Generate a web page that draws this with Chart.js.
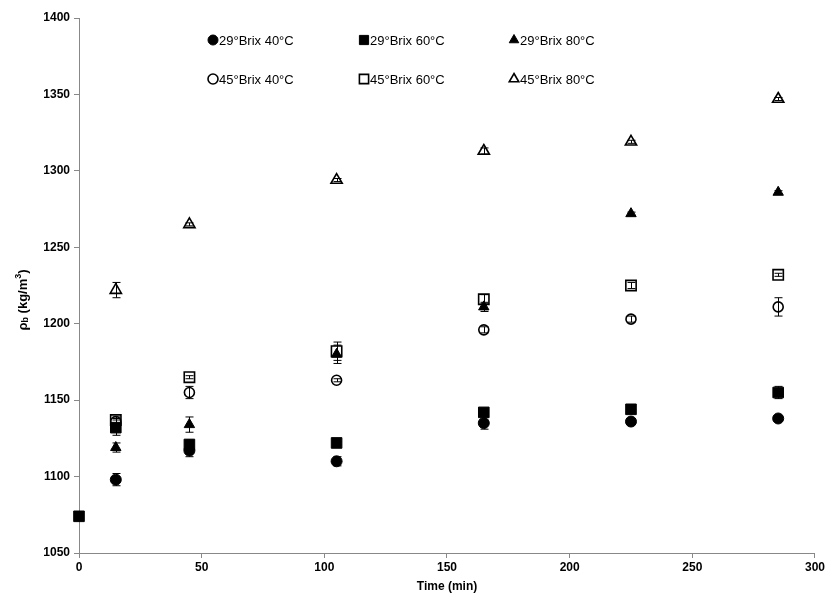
<!DOCTYPE html>
<html>
<head>
<meta charset="utf-8">
<script src="https://cdn.jsdelivr.net/npm/chart.js@4.4.0/dist/chart.umd.min.js"></script>
<style>
  html, body { margin: 0; padding: 0; background: #fff; }
  #wrap { width: 827px; height: 594px; }
</style>
</head>
<body>
<div id="wrap"><canvas id="myChart" width="827" height="594"></canvas></div>
<script>
// czasy pomiaru (min)
const times = [0, 15, 45, 105, 165, 225, 285];

// gestosc (kg/m3) dla kazdej serii, null = brak pomiaru
const brix29_40 = [null, 1098, 1117, 1110, 1135, 1136, 1138];
const brix29_60 = [1074, 1132, 1121, 1122, 1142, 1144, 1155];
const brix29_80 = [null, 1119, 1134, 1180, 1211, 1272, 1286];
const brix45_40 = [null, 1136, 1155, 1163, 1196, 1203, 1211];
const brix45_60 = [null, 1137, 1165, 1182, 1216, 1225, 1232];
const brix45_80 = [null, 1222, 1265, 1294, 1313, 1319, 1347];

// odchylenia (slupki bledow)
const err29_40 = [0, 4, 4, 3, 4, 2, 1];
const err29_60 = [0, 5, 3, 1, 2, 1, 4];
const err29_80 = [0, 3, 5, 6, 3, 1, 1];
const err45_40 = [0, 2, 4, 1, 2, 2, 6];
const err45_60 = [0, 2, 1, 6, 3, 2, 1];
const err45_80 = [0, 5, 1, 1, 2, 1, 1];

const yTicks = [1050, 1100, 1150, 1200, 1250, 1300, 1350, 1400];

function punkty(vals) {
  return times.map((t, i) => ({ x: t, y: vals[i] })).filter(p => p.y !== null);
}

function seria(label, vals, errs, style, radius, filled) {
  return {
    label: label,
    data: punkty(vals),
    errs: errs,
    pointStyle: style,
    pointRadius: radius,
    pointHoverRadius: radius,
    pointBackgroundColor: filled ? '#000' : '#fff',
    pointBorderColor: '#000',
    pointBorderWidth: filled ? 1 : 1.6,
    showLine: false,
    clip: false
  };
}

const datasets = [
  seria('29°Brix 40°C', brix29_40, err29_40, 'circle', 5.5, true),
  seria('29°Brix 60°C', brix29_60, err29_60, 'rect', 7.5, true),
  seria('29°Brix 80°C', brix29_80, err29_80, 'triangle', 6, true),
  seria('45°Brix 40°C', brix45_40, err45_40, 'circle', 5, false),
  seria('45°Brix 60°C', brix45_60, err45_60, 'rect', 7.3, false),
  seria('45°Brix 80°C', brix45_80, err45_80, 'triangle', 6.5, false)
];

// slupki bledow rysowane na wierzchu punktow
const errorBars = {
  id: 'errorBars',
  afterDatasetsDraw(chart) {
    const ctx = chart.ctx;
    const xs = chart.scales.x, ys = chart.scales.y;
    ctx.save();
    ctx.strokeStyle = '#000';
    ctx.lineWidth = 1;
    chart.data.datasets.forEach(ds => {
      ds.data.forEach(p => {
        const e = ds.errs[times.indexOf(p.x)];
        if (!e) return;
        const px = Math.round(xs.getPixelForValue(p.x)) + 0.5;
        const top = ys.getPixelForValue(p.y + e);
        const bot = ys.getPixelForValue(p.y - e);
        ctx.beginPath();
        ctx.moveTo(px, top); ctx.lineTo(px, bot);
        ctx.moveTo(px - 4, top); ctx.lineTo(px + 4, top);
        ctx.moveTo(px - 4, bot); ctx.lineTo(px + 4, bot);
        ctx.stroke();
      });
    });
    ctx.restore();
  }
};

// legenda w ukladzie 3 x 2 oraz tytul osi Y z indeksami
const extras = {
  id: 'extras',
  afterDraw(chart) {
    const ctx = chart.ctx;
    ctx.save();
    const cols = [213, 364, 514];
    const rows = [40, 79];
    chart.data.datasets.forEach((ds, i) => {
      const cx = cols[i % 3], cy = rows[Math.floor(i / 3)];
      ctx.fillStyle = ds.pointBackgroundColor;
      ctx.strokeStyle = '#000';
      ctx.lineWidth = ds.pointBorderWidth;
      const r = ds.pointStyle === 'rect' ? 6.5 : (ds.pointStyle === 'triangle' ? 5.5 : 5);
      Chart.helpers.drawPoint(ctx, { pointStyle: ds.pointStyle, radius: r, borderWidth: ds.pointBorderWidth }, cx, cy);
      ctx.fillStyle = '#000';
      ctx.font = '13px "Liberation Sans", Arial, sans-serif';
      ctx.textBaseline = 'middle';
      ctx.textAlign = 'left';
      ctx.fillText(ds.label, cx + 6, cy + 1);
    });

    // tytul osi Y
    ctx.translate(23, 300);
    ctx.rotate(-Math.PI / 2);
    ctx.textBaseline = 'middle';
    ctx.textAlign = 'left';
    const big = 'bold 13px "Liberation Sans", Arial, sans-serif';
    const small = 'bold 9px "Liberation Sans", Arial, sans-serif';
    const parts = [['ρ', big, 0], ['b', small, 3], [' (kg/m', big, 0], ['3', small, -4], [')', big, 0]];
    let w = 0;
    parts.forEach(p => { ctx.font = p[1]; w += ctx.measureText(p[0]).width; });
    let x = -w / 2;
    parts.forEach(p => {
      ctx.font = p[1];
      ctx.fillText(p[0], x, p[2]);
      x += ctx.measureText(p[0]).width;
    });
    ctx.restore();
  }
};

const tickFont = { family: '"Liberation Sans", Arial, sans-serif', size: 12, weight: 'bold' };

const canvas = document.getElementById('myChart');
const chart = new Chart(canvas, {
  type: 'scatter',
  data: { datasets: datasets },
  options: {
    responsive: false,
    animation: false,
    layout: { padding: { top: 18, right: 11, left: 0, bottom: 0 } },
    plugins: {
      legend: { display: false },
      tooltip: { enabled: false }
    },
    scales: {
      x: {
        type: 'linear',
        min: 0,
        max: 300,
        ticks: { stepSize: 50, color: '#000', font: tickFont, padding: 2, callback: v => String(v) },
        grid: { drawOnChartArea: false, drawTicks: true, tickLength: 5, color: '#888' },
        border: { color: '#888', width: 1 },
        title: {
          display: true,
          text: 'Time (min)',
          color: '#000',
          font: { family: '"Liberation Sans", Arial, sans-serif', size: 12, weight: 'bold' },
          padding: { top: 1, bottom: 0 }
        },
        afterFit(scale) { scale.height = 41; }
      },
      y: {
        min: 1050,
        max: 1400,
        afterBuildTicks(scale) { scale.ticks = yTicks.map(v => ({ value: v })); },
        ticks: { color: '#000', font: tickFont, padding: 4, callback: v => String(v) },
        grid: { drawOnChartArea: false, drawTicks: true, tickLength: 5, color: '#888' },
        border: { color: '#888', width: 1 },
        afterFit(scale) { scale.width = 79; }
      }
    }
  },
  plugins: [errorBars, extras]
});
</script>
</body>
</html>
